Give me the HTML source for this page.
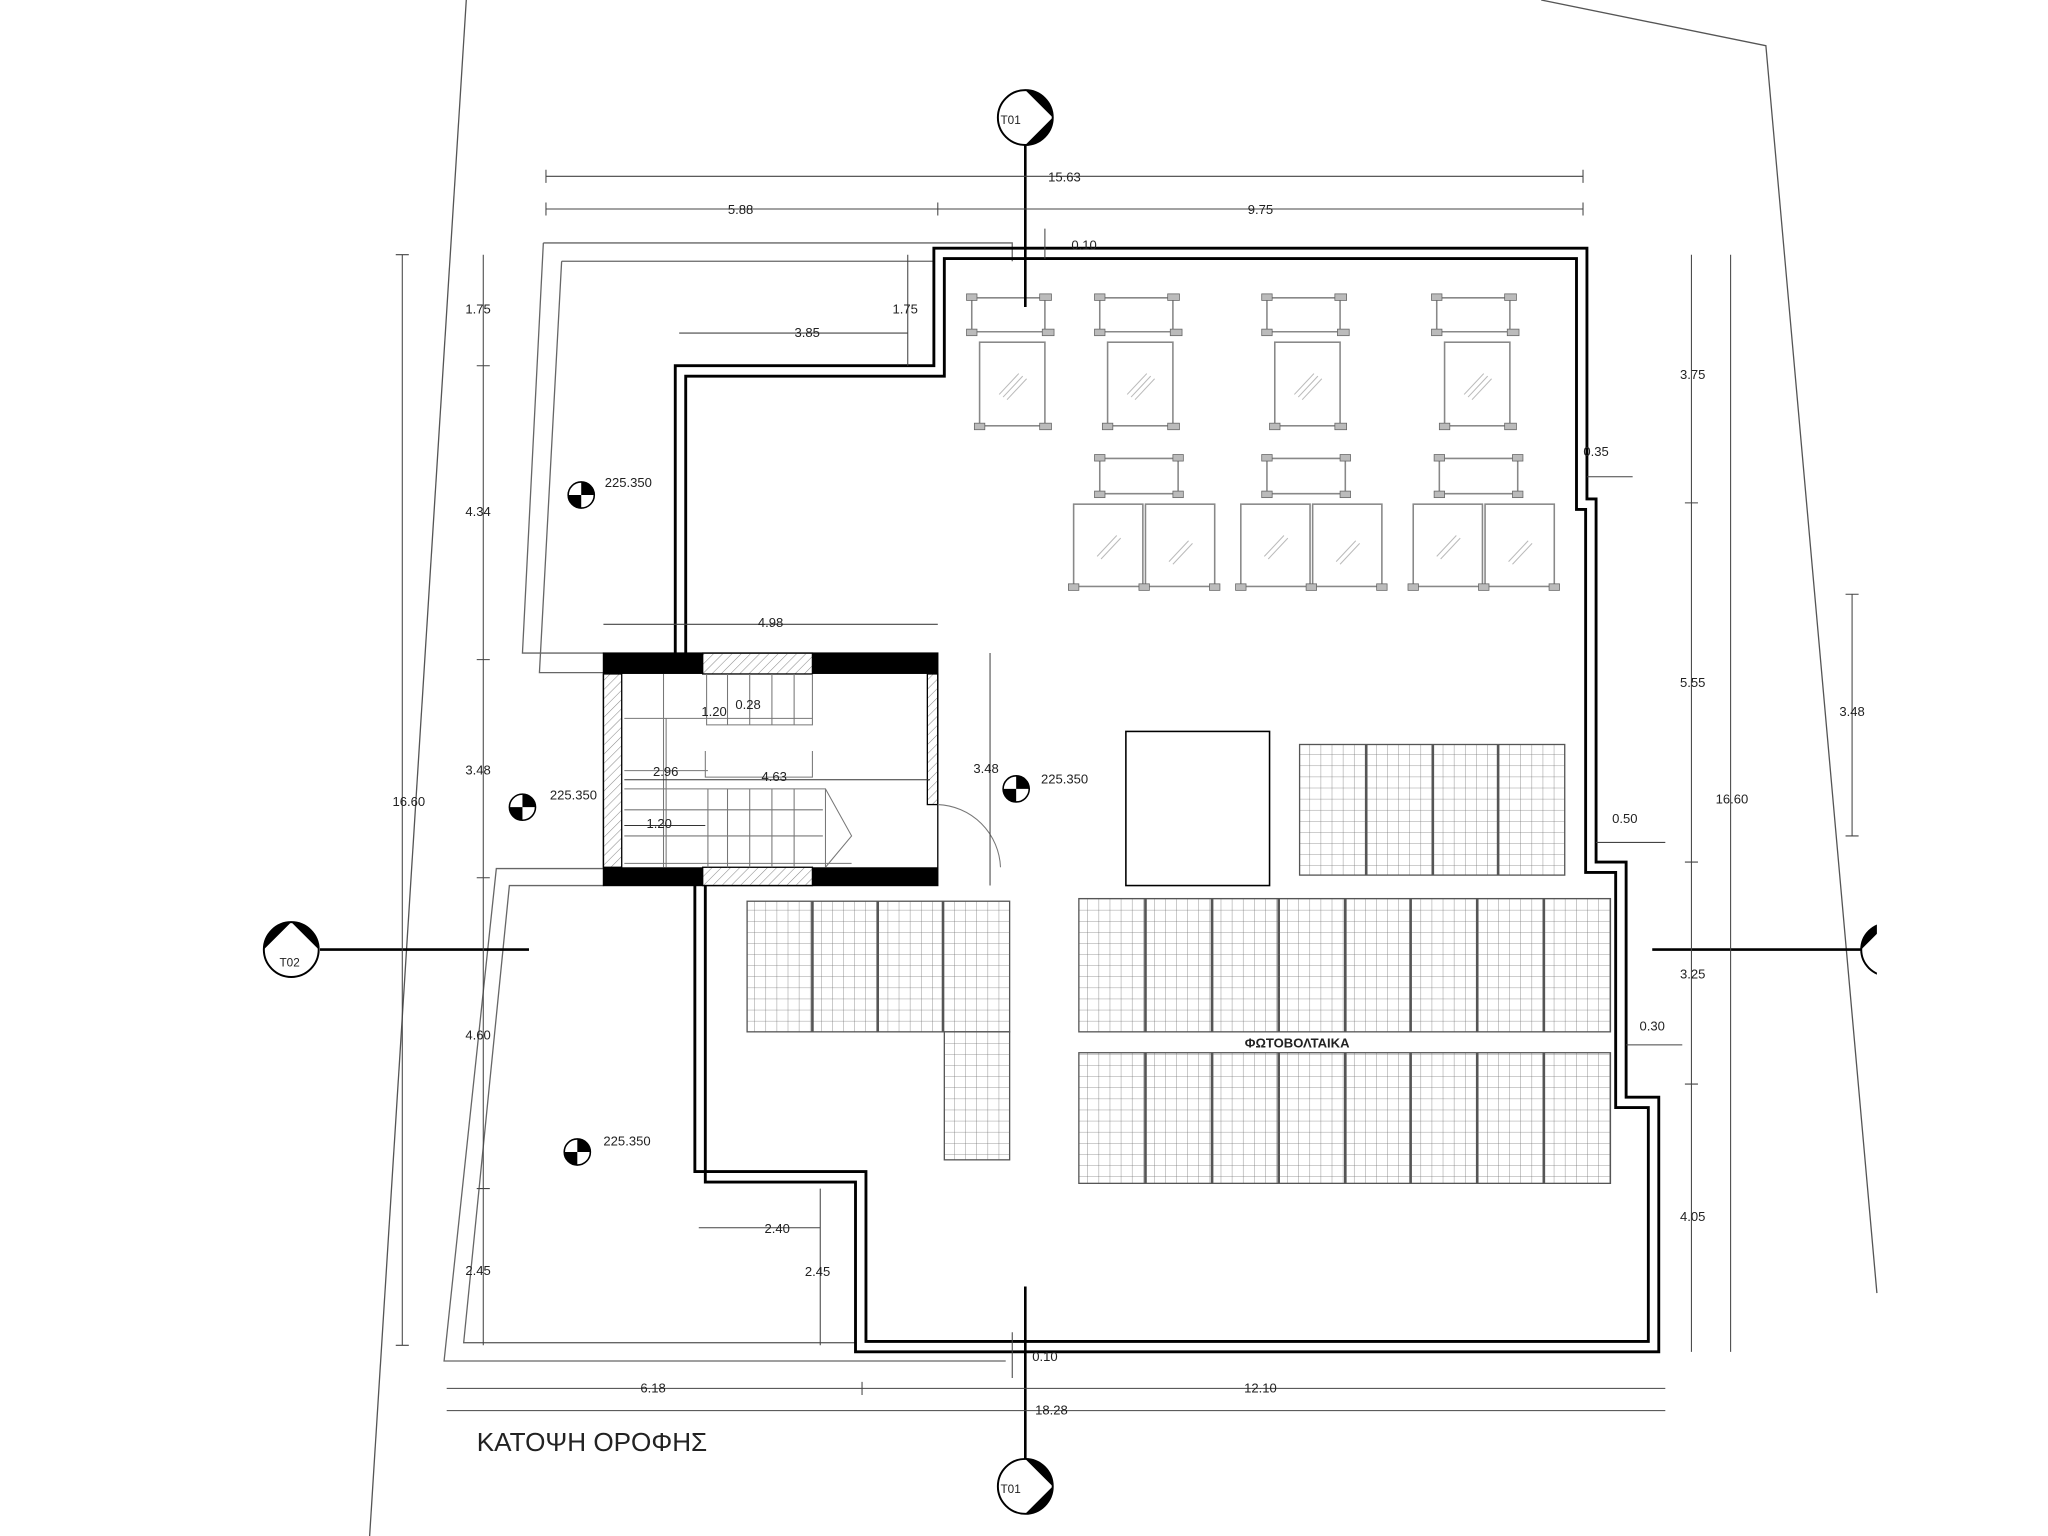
<!DOCTYPE html>
<html><head><meta charset="utf-8"><style>
html,body{margin:0;padding:0;background:#fff}
svg{display:block}
text{font-family:"Liberation Sans",sans-serif;fill:#222}
</style></head><body>
<svg width="2048" height="1536" viewBox="0 0 1568 1176" xmlns="http://www.w3.org/2000/svg">
<defs>
<pattern id="grid" width="8.5" height="8.5" patternUnits="userSpaceOnUse">
<path d="M8.5 0V8.5M0 8.5H8.5" stroke="#777" stroke-width="0.6" fill="none"/>
</pattern>
<pattern id="hatch" width="5" height="5" patternUnits="userSpaceOnUse" patternTransform="rotate(45)">
<path d="M0 0V5" stroke="#888" stroke-width="0.8"/>
</pattern>
<symbol id="skyA" overflow="visible">
<g fill="none" stroke="#888" stroke-width="1.2">
<path d="M4 4H60M4 4V30M60 4V30M4 30H62"/>
<rect x="10" y="38" width="50" height="64"/>
<path d="M25 78L40 62M28 80L43 64M31 82L46 66" stroke="#bbb" stroke-width="0.8"/>
</g>
<g fill="#bbb" stroke="#666" stroke-width="0.6">
<rect x="0" y="1" width="8" height="5"/><rect x="56" y="1" width="9" height="5"/>
<rect x="0" y="28" width="8" height="5"/><rect x="58" y="28" width="9" height="5"/>
<rect x="6" y="100" width="8" height="5"/><rect x="56" y="100" width="9" height="5"/>
</g>
</symbol>
<symbol id="skyB" overflow="visible">
<g fill="none" stroke="#888" stroke-width="1.2">
<path d="M2 3H62M2 3V30M62 3V30M2 30H62"/>
<rect x="-18" y="38" width="53" height="63"/><rect x="37" y="38" width="53" height="63"/>
<path d="M0 78L15 62M3 80L18 64M55 82L70 66M58 84L73 68" stroke="#bbb" stroke-width="0.8"/>
</g>
<g fill="#bbb" stroke="#666" stroke-width="0.6">
<rect x="-2" y="0" width="8" height="5"/><rect x="58" y="0" width="8" height="5"/>
<rect x="-2" y="28" width="8" height="5"/><rect x="58" y="28" width="8" height="5"/>
<rect x="-22" y="99" width="8" height="5"/><rect x="32" y="99" width="8" height="5"/><rect x="86" y="99" width="8" height="5"/>
</g>
</symbol>
<symbol id="lvl" overflow="visible">
<circle cx="0" cy="0" r="10" fill="#fff" stroke="#000" stroke-width="1.2"/>
<path d="M0 0V-10A10 10 0 0 1 10 0Z M0 0V10A10 10 0 0 1 -10 0Z" fill="#000"/>
</symbol>
</defs>

<!-- site boundary -->
<g stroke="#555" stroke-width="1" fill="none">
<path d="M357 0L283 1176"/>
<path d="M1180 0L1352 35L1437 990"/>
</g>

<!-- terrace outline thin -->
<g stroke="#666" stroke-width="1" fill="none">
<path d="M416 186H775V200"/>
<path d="M416 186L400 500H462"/>
<path d="M430 200H715"/>
<path d="M430 200L413 515H462"/>
<path d="M462 678H390L355 1028H655"/>
<path d="M462 665H380L340 1042H770"/>
</g>

<!-- main building double line -->
<g fill="none" stroke="#000" stroke-width="2.2">
<path d="M517 500V280H715V190H1215V382H1222V660H1245V840H1270V1035H655V905H540V678"/>
<path d="M525 500V288H723V198H1207V390H1214V668H1237V848H1262V1027H663V897H532V678"/>
</g>

<!-- stair core -->
<g>
<rect x="462" y="500" width="256" height="178" fill="#fff" stroke="#000" stroke-width="1"/>
<rect x="462" y="500" width="76" height="16" fill="#000"/>
<rect x="538" y="500" width="84" height="16" fill="url(#hatch)" stroke="#000"/>
<rect x="622" y="500" width="96" height="16" fill="#000"/>
<rect x="462" y="664" width="76" height="14" fill="#000"/>
<rect x="538" y="664" width="84" height="14" fill="url(#hatch)" stroke="#000"/>
<rect x="622" y="664" width="96" height="14" fill="#000"/>
<rect x="462" y="516" width="14" height="148" fill="url(#hatch)" stroke="#000"/>
<rect x="710" y="516" width="8" height="100" fill="url(#hatch)" stroke="#000"/>
<g stroke="#777" stroke-width="0.8" fill="none">
<path d="M541 516V555H622V516M557 516V555M574 516V555M591 516V555M608 516V555"/>
<path d="M478 550H622M478 590H542M540 575V595H622V575M478 604H632V664M478 620H630M478 640H630"/>
<path d="M557 604V664M574 604V664M591 604V664M608 604V664M542 604V664"/>
<path d="M632 604L652 640L632 664M478 661H652"/>
<path d="M508 516V664M510 550V664"/>
<path d="M718 616A50 50 0 0 1 766 664"/>
</g>
<g stroke="#333" stroke-width="0.8">
<path d="M478 597H712M478 632H540"/>
</g>
<text x="537" y="548" font-size="10">1.20</text><text x="563" y="543" font-size="10">0.28</text>
<text x="500" y="594" font-size="10">2.96</text><text x="583" y="598" font-size="10">4.63</text>
<text x="495" y="634" font-size="10">1.20</text>
</g>

<!-- skylights -->
<use href="#skyA" x="740" y="224"/><use href="#skyA" x="838" y="224"/>
<use href="#skyA" x="966" y="224"/><use href="#skyA" x="1096" y="224"/>
<use href="#skyB" x="840" y="348"/><use href="#skyB" x="968" y="348"/><use href="#skyB" x="1100" y="348"/>

<!-- PV panels -->
<g stroke="#555" stroke-width="1">
<rect x="862" y="560" width="110" height="118" fill="#fff" stroke="#000" stroke-width="1.2"/>
<rect x="995" y="570" width="203" height="100" fill="url(#grid)"/>
<path d="M1046 570V670M1097 570V670M1147 570V670" stroke-width="2"/>
<rect x="572" y="690" width="201" height="100" fill="url(#grid)"/>
<path d="M622 690V790M672 690V790M722 690V790" stroke-width="2"/>
<rect x="723" y="790" width="50" height="98" fill="url(#grid)"/>
<rect x="826" y="688" width="407" height="102" fill="url(#grid)"/>
<path d="M877 688V790M928 688V790M979 688V790M1030 688V790M1080 688V790M1131 688V790M1182 688V790" stroke-width="2"/>
<rect x="826" y="806" width="407" height="100" fill="url(#grid)"/>
<path d="M877 806V906M928 806V906M979 806V906M1030 806V906M1080 806V906M1131 806V906M1182 806V906" stroke-width="2"/>
</g>
<rect x="950" y="792" width="95" height="12" fill="#fff"/>
<text x="953" y="802" font-size="10" font-weight="bold">ΦΩΤΟΒΟΛΤΑΙΚΑ</text>

<!-- section lines -->
<g stroke="#000" stroke-width="2">
<path d="M785 110V235M785 985V1120M245 727H405M1265 727H1430"/>
</g>
<g>
<circle cx="785" cy="90" r="21" fill="#fff" stroke="#000" stroke-width="1.5"/>
<path d="M785 69A21 21 0 0 1 785 111L806 90Z" fill="#000"/>
<text x="766" y="95" font-size="9">T01</text>
<circle cx="785" cy="1138" r="21" fill="#fff" stroke="#000" stroke-width="1.5"/>
<path d="M785 1117A21 21 0 0 1 785 1159L806 1138Z" fill="#000"/>
<text x="766" y="1143" font-size="9">T01</text>
<circle cx="223" cy="727" r="21" fill="#fff" stroke="#000" stroke-width="1.5"/>
<path d="M202 727A21 21 0 0 1 244 727L223 706Z" fill="#000"/>
<text x="214" y="740" font-size="9">T02</text>
<circle cx="1445" cy="727" r="20" fill="#fff" stroke="#000" stroke-width="1.5"/>
<path d="M1425 727A20 20 0 0 1 1465 727L1445 707Z" fill="#000"/>
<rect x="1437" y="690" width="40" height="80" fill="#fff"/>
</g>

<!-- level markers -->
<use href="#lvl" x="445" y="379"/><text x="463" y="373" font-size="10">225.350</text>
<use href="#lvl" x="400" y="618"/><text x="421" y="612" font-size="10">225.350</text>
<use href="#lvl" x="778" y="604"/><text x="797" y="600" font-size="10">225.350</text>
<use href="#lvl" x="442" y="882"/><text x="462" y="877" font-size="10">225.350</text>

<!-- dimension lines -->
<g stroke="#444" stroke-width="0.8" fill="none">
<path d="M418 135H1212M418 130V140M1212 130V140"/>
<path d="M418 160H1212M418 155V165M718 155V165M1212 155V165"/>
<path d="M308 195V1030M303 195H313M303 1030H313"/>
<path d="M370 195V1030M365 280H375M365 505H375M365 672H375M365 910H375"/>
<path d="M1295 195V1035M1290 385H1300M1290 660H1300M1290 830H1300"/>
<path d="M1325 195V1035"/>
<path d="M1418 455V640M1413 455H1423M1413 640H1423"/>
<path d="M342 1063H1275M660 1058V1068"/>
<path d="M342 1080H1275"/>
<path d="M520 255H695M695 195V280"/>
<path d="M535 940H628M628 910V1030"/>
<path d="M462 478H718"/>
<path d="M758 500V678"/>
<path d="M1215 365H1250M1222 645H1275M1245 800H1288"/>
<path d="M775 1020V1055M800 175V198"/>
</g>
<g font-size="10" text-anchor="middle">
<text x="815" y="139">15.63</text>
<text x="567" y="164">5.88</text><text x="965" y="164">9.75</text>
<text x="313" y="617">16.60</text>
<text x="366" y="240">1.75</text><text x="366" y="395">4.34</text><text x="366" y="593">3.48</text>
<text x="366" y="796">4.60</text><text x="366" y="976">2.45</text>
<text x="1296" y="290">3.75</text><text x="1296" y="526">5.55</text>
<text x="1296" y="749">3.25</text><text x="1296" y="935">4.05</text>
<text x="1326" y="615">16.60</text><text x="1418" y="548">3.48</text>
<text x="500" y="1066">6.18</text><text x="965" y="1066">12.10</text>
<text x="805" y="1083">18.28</text>
<text x="618" y="258">3.85</text><text x="693" y="240">1.75</text>
<text x="595" y="944">2.40</text><text x="626" y="977">2.45</text>
<text x="590" y="480">4.98</text><text x="755" y="592">3.48</text>
<text x="830" y="191">0.10</text><text x="800" y="1042">0.10</text>
<text x="1222" y="349">0.35</text><text x="1244" y="630">0.50</text><text x="1265" y="789">0.30</text>
</g>

<text x="365" y="1111" font-size="20">ΚΑΤΟΨΗ ΟΡΟΦΗΣ</text>
</svg>
</body></html>
